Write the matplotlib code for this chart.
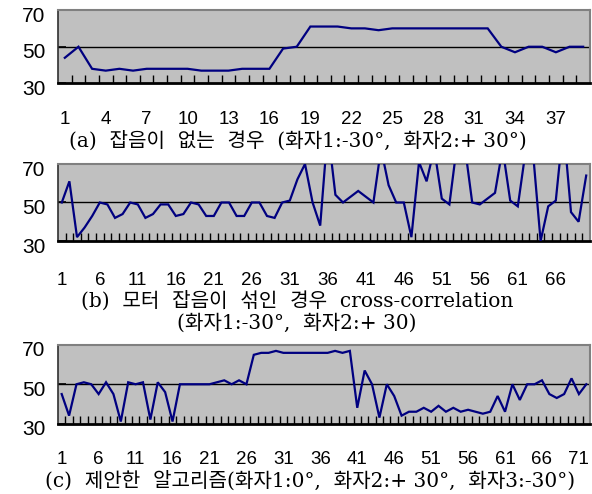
import matplotlib
matplotlib.use("Agg")
import matplotlib.pyplot as plt
import matplotlib.transforms as mtransforms
import numpy as np

# ---- data ----
vals_a = [44, 50, 38, 37, 38, 37, 38, 38, 38, 38,
          37, 37, 37, 38, 38, 38, 49, 50, 61, 61,
          61, 60, 60, 59, 60, 60, 60, 60, 60, 60,
          60, 60, 50, 47, 50, 50, 47, 50, 50]
vals_b = [50, 61, 32, 37, 43, 50, 49, 42, 44, 50,
          49, 42, 44, 49, 49, 43, 44, 50, 49, 43,
          43, 50, 50, 43, 43, 50, 50, 43, 42, 50,
          51, 62, 70, 50, 38, 88, 54, 50, 53, 56,
          53, 50, 78, 59, 50, 50, 32, 71, 61, 78,
          52, 49, 80, 80, 50, 49, 52, 55, 78, 51,
          48, 76, 76, 30, 48, 51, 90, 45, 40, 64]
vals_c = [45, 34, 50, 51, 50, 45, 51, 45, 31, 51,
          50, 51, 32, 51, 46, 31, 50, 50, 50, 50,
          50, 51, 52, 50, 52, 50, 65, 66, 66, 67,
          66, 66, 66, 66, 66, 66, 66, 67, 66, 67,
          38, 57, 50, 33, 50, 44, 34, 36, 36, 38,
          36, 39, 36, 38, 36, 37, 36, 35, 36, 44,
          36, 50, 42, 50, 50, 52, 45, 43, 45, 53,
          45, 50]
label_step_a = 3
label_step_bc = 5
y_ticks = [30, 50, 70]

caption_a = "(a)  잡음이  없는  경우  (화자1:-30°,  화자2:+ 30°)"
caption_b1 = "(b)  모터  잡음이  섞인  경우  cross-correlation"
caption_b2 = "(화자1:-30°,  화자2:+ 30)"
caption_c = "(c)  제안한  알고리즘(화자1:0°,  화자2:+ 30°,  화자3:-30°)"

W, H = 592, 494
fig = plt.figure(figsize=(W / 100, H / 100), dpi=100)
fig.patch.set_facecolor("white")

cap_font = ["DejaVu Serif", "Noto Sans CJK KR"]
num_font = "Liberation Sans"


def px_axes(left, top, right, bottom):
    return fig.add_axes([left / W, 1 - bottom / H, (right - left) / W, (bottom - top) / H])


def draw_panel(ax, vals, step, label_pad):
    n = len(vals)
    x = np.arange(1, n + 1)
    ax.set_facecolor("#C0C0C0")
    ax.axhline(50, color="#000000", lw=1.0, zorder=1)
    ax.plot(x, vals, color="#000080", lw=1.6, zorder=3, solid_joinstyle="miter")
    ax.set_xlim(0.5, n + 0.5)
    ax.set_ylim(30, 70)
    labs = list(range(1, n + 1, step))
    ax.set_xticks(labs)
    ax.set_xticklabels([str(v) for v in labs], fontsize=13.5, family=num_font)
    ax.set_xticks(np.arange(1.5, n + 0.5, 1.0), minor=True)
    ax.tick_params(axis="x", which="major", length=0, pad=label_pad)
    ax.tick_params(axis="x", which="minor", direction="in", length=5.5, width=1, color="black")
    ax.set_yticks(y_ticks)
    ax.set_yticklabels([str(v) for v in y_ticks], fontsize=15, family=num_font)
    ax.tick_params(axis="y", direction="in", length=6, width=1.2, color="black", pad=9)
    off = mtransforms.ScaledTranslation(0, -4 / 100, fig.dpi_scale_trans)
    for lab in ax.get_yticklabels():
        lab.set_transform(lab.get_transform() + off)
    ax.spines["left"].set_color("#303030")
    ax.spines["left"].set_linewidth(1.2)
    ax.spines["bottom"].set_color("black")
    ax.spines["bottom"].set_linewidth(2.0)
    ax.spines["top"].set_color("#808080")
    ax.spines["top"].set_linewidth(1.5)
    ax.spines["right"].set_color("#808080")
    ax.spines["right"].set_linewidth(1.5)


ax_a = px_axes(58, 10, 590, 83.5)
draw_panel(ax_a, vals_a, label_step_a, 20)
ax_b = px_axes(58, 164, 590, 241)
draw_panel(ax_b, vals_b, label_step_bc, 22)
ax_c = px_axes(58, 345, 590, 423.5)
draw_panel(ax_c, vals_c, label_step_bc, 20)

fig.text(298 / W, 1 - 142 / H, caption_a, ha="center", va="center", fontsize=14.5, family=cap_font)
fig.text(297 / W, 1 - 302 / H, caption_b1, ha="center", va="center", fontsize=14.5, family=cap_font)
fig.text(297 / W, 1 - 323 / H, caption_b2, ha="center", va="center", fontsize=14.5, family=cap_font)
fig.text(310 / W, 1 - 481 / H, caption_c, ha="center", va="center", fontsize=14.5, family=cap_font)

fig.savefig("out.png", dpi=100, facecolor="white")
